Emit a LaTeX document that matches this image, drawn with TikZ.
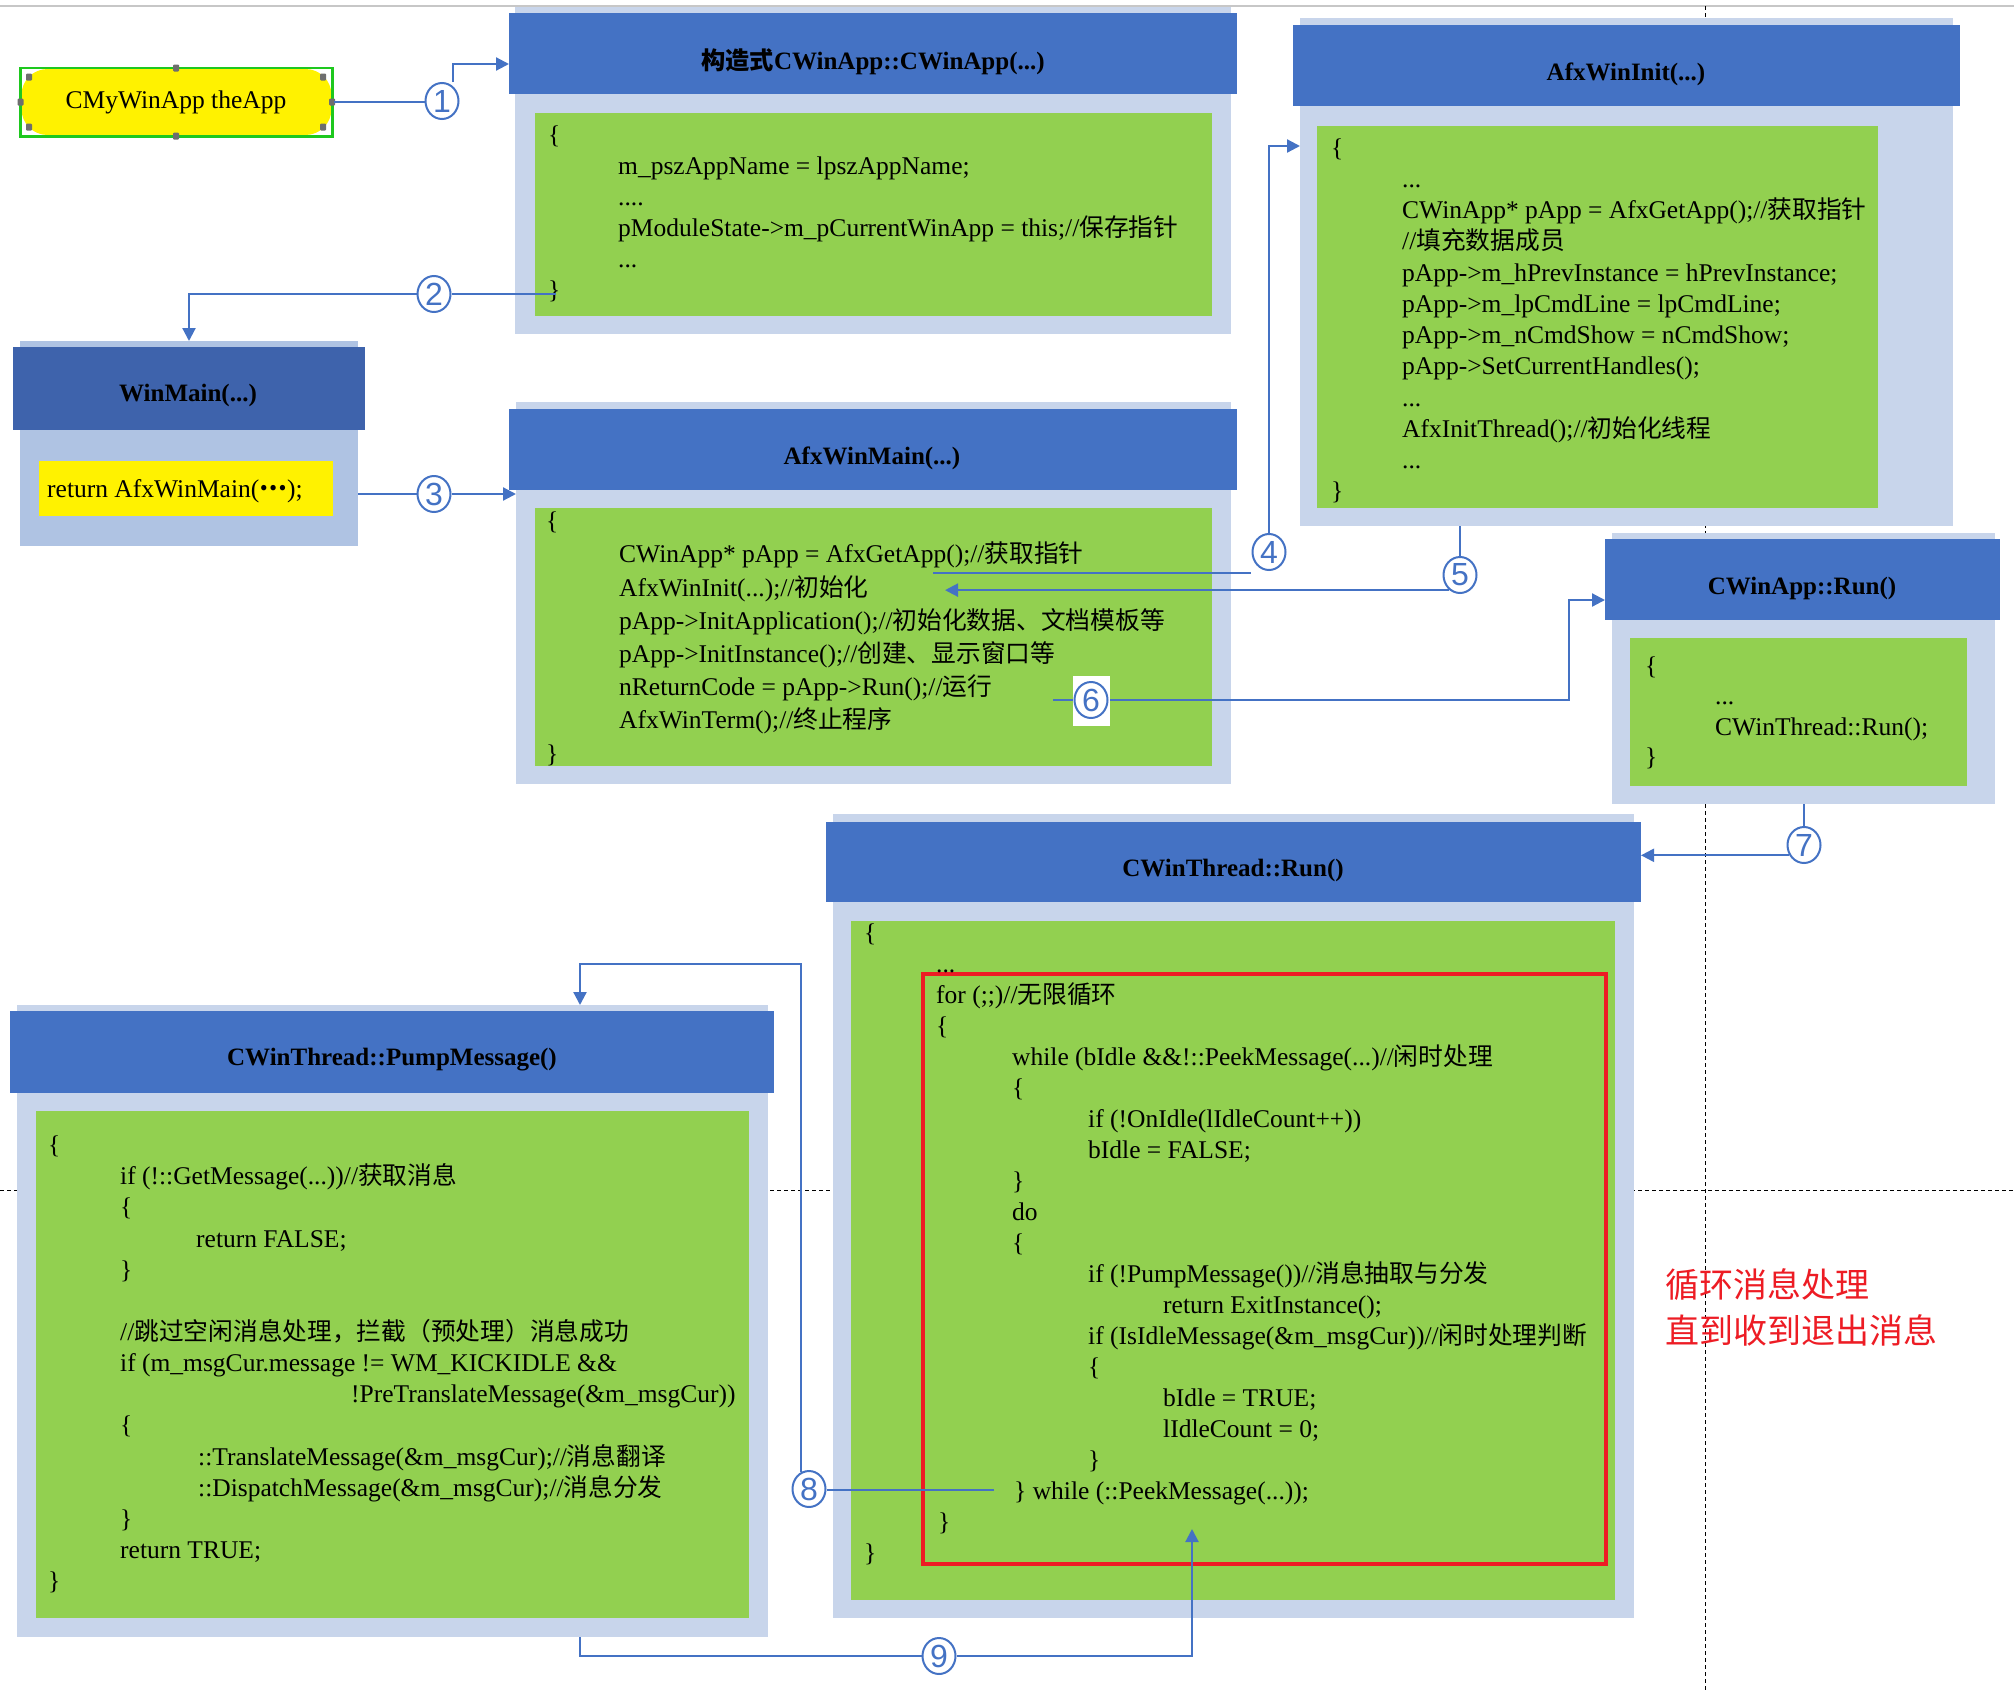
\documentclass[tikz,border=0pt]{standalone}
\usepackage{fontspec}
\setmainfont{Liberation Serif}
\newfontfamily\cjkfam[Scale=0.97]{Noto Sans CJK SC}
\newfontfamily\cjkred{Noto Sans CJK SC}
\newfontfamily\digitfont{Liberation Sans}
\usetikzlibrary{arrows.meta,calc,fit,shapes.geometric}
\definecolor{panelC}{RGB}{200,213,235}
\definecolor{titleC}{RGB}{68,114,196}
\definecolor{codeC}{RGB}{146,208,80}
\definecolor{wmPanelC}{RGB}{175,195,227}
\definecolor{wmTitleC}{RGB}{62,99,172}
\definecolor{lineC}{RGB}{68,114,196}
\definecolor{redC}{RGB}{237,28,36}
\definecolor{frameG}{RGB}{30,200,30}
\definecolor{handleC}{RGB}{110,110,110}
\newcommand\ZH[1]{{\cjkfam #1}}
\newcommand\Ind[1]{\hspace*{#1pt}}
\newcommand\FL{\rule{0pt}{24pt}}
\tikzset{
  plainbox/.style={inner sep=0pt, outer sep=0pt},
  panel/.style={plainbox, fill=panelC},
  titlebar/.style={plainbox, fill=titleC},
  codearea/.style={plainbox, fill=codeC},
  titletext/.style={inner sep=0pt, font={\bfseries\fontsize{25}{30}\selectfont}},
  codetext/.style={inner sep=0pt, anchor=north west, align=left,
    font={\fontsize{25.5}{#1}\selectfont\lineskiplimit=-100pt\lineskip=0pt}},
  num/.style={ellipse, draw=lineC, line width=2pt, fill=white, inner sep=0pt,
    minimum width=33pt, minimum height=36pt, text=lineC,
    font={\digitfont\fontsize{32}{32}\selectfont}},
  conn/.style={draw=lineC, line width=2.2pt},
  arr/.style={conn, -{Triangle[length=13pt,width=13pt]}},
  handle/.style={rectangle, rounded corners=1pt, fill=handleC, minimum width=6pt, minimum height=7pt, inner sep=0pt},
  guide/.style={draw=black, line width=1pt, dash pattern=on 4pt off 3pt},
}
\begin{document}
\begin{tikzpicture}[x=1pt,y=-1pt]
\useasboundingbox[fill=white] (0,0) rectangle (2014,1692);

% background guides
\draw[black!22, line width=2pt] (0,6) -- (2014,6);
\draw[guide] (1705,6) -- (1705,1692);
\draw[guide] (0,1190) -- (2014,1190);

% CMyWinApp theApp
\node[plainbox, fill=yellow, rounded corners=26pt, fit={(21.5,69) (331.5,135)}] (appshape) {};
\node[draw=frameG, line width=2.5pt, inner sep=0pt, fit={(20.5,68) (332.7,136.5)}] (appframe) {};
\node[inner sep=0pt, font={\fontsize{25.5}{30}\selectfont}] (apptext) at (176,102) {CMyWinApp theApp};
\foreach \p [count=\i] in {(29,77),(176,68),(323,77),(20.5,102),(332,102),(29,127),(176,136),(323,127)}
  \node[handle] (hd\i) at \p {};

% Box A : constructor
\node[panel, fit={(515,7) (1231,334)}] (apanel) {};
\node[titlebar, fit={(509,13) (1237,94)}] (at) {};
\node[codearea, fit={(535,113) (1212,316)}] (agreen) {};
\node[titletext] (attxt) at (873,62) {\ZH{构造式}CWinApp::CWinApp(...)};
\node[codetext=31] (acode) at (548,119.5) {\FL\{\\
\Ind{70}m\_pszAppName = lpszAppName;\\
\Ind{70}....\\
\Ind{70}pModuleState->m\_pCurrentWinApp = this;//\ZH{保存指针}\\
\Ind{70}...\\
\}};

% WinMain
\node[plainbox, fill=wmPanelC, fit={(20,341) (358,546)}] (wmpanel) {};
\node[plainbox, fill=wmTitleC, fit={(12.5,347) (365,430)}] (wmt) {};
\node[plainbox, fill=yellow, fit={(39,461) (333,516)}] (wmyellow) {};
\node[titletext] (wmttxt) at (188,395) {WinMain(...)};
\node[inner sep=0pt, anchor=base west, font={\fontsize{25.5}{30}\selectfont}] (wmtext) at (47,497) {return AfxWinMain(\raisebox{7pt}{\ZH{\bfseries …}});};

% Box B : AfxWinMain
\node[panel, fit={(516,402) (1231,784)}] (bpanel) {};
\node[titlebar, fit={(509,409) (1237,490)}] (bt) {};
\node[codearea, fit={(535,508) (1212,766)}] (bgreen) {};
\node[titletext] (bttxt) at (872,458) {AfxWinMain(...)};
\node[codetext=33.2] (bcode) at (546,505.5) {\FL\{\\
\Ind{73}CWinApp* pApp = AfxGetApp();//\ZH{获取指针}\\
\Ind{73}AfxWinInit(...);//\ZH{初始化}\\
\Ind{73}pApp->InitApplication();//\ZH{初始化数据、文档模板等}\\
\Ind{73}pApp->InitInstance();//\ZH{创建、显示窗口等}\\
\Ind{73}nReturnCode = pApp->Run();//\ZH{运行}\\
\Ind{73}AfxWinTerm();//\ZH{终止程序}\\
\}};

% Box C : AfxWinInit
\node[panel, fit={(1300,18) (1953,526)}] (cpanel) {};
\node[titlebar, fit={(1293,25) (1960,106)}] (ct) {};
\node[codearea, fit={(1317,126) (1878,508)}] (cgreen) {};
\node[titletext] (cttxt) at (1626,74) {AfxWinInit(...)};
\node[codetext=31.25] (ccode) at (1331,132) {\FL\{\\
\Ind{71}...\\
\Ind{71}CWinApp* pApp = AfxGetApp();//\ZH{获取指针}\\
\Ind{71}//\ZH{填充数据成员}\\
\Ind{71}pApp->m\_hPrevInstance = hPrevInstance;\\
\Ind{71}pApp->m\_lpCmdLine = lpCmdLine;\\
\Ind{71}pApp->m\_nCmdShow = nCmdShow;\\
\Ind{71}pApp->SetCurrentHandles();\\
\Ind{71}...\\
\Ind{71}AfxInitThread();//\ZH{初始化线程}\\
\Ind{71}...\\
\}};

% Box D : CWinApp::Run
\node[panel, fit={(1612,533) (1995,804)}] (dpanel) {};
\node[titlebar, fit={(1605,539) (2000,620)}] (dt) {};
\node[codearea, fit={(1630,638) (1967,786)}] (dgreen) {};
\node[titletext] (dttxt) at (1802,588) {CWinApp::Run()};
\node[codetext=30.5] (dcode) at (1645,650) {\FL\{\\
\Ind{70}...\\
\Ind{70}CWinThread::Run();\\
\}};

% Box E : CWinThread::Run
\node[panel, fit={(833,814) (1634,1618)}] (epanel) {};
\node[titlebar, fit={(826,822) (1641,902)}] (et) {};
\node[codearea, fit={(851,921) (1615,1600)}] (egreen) {};
\node[draw=redC, line width=3.5pt, inner sep=0pt, fit={(923,974) (1606,1564)}] (loopbox) {};
\node[titletext] (ettxt) at (1233,870) {CWinThread::Run()};
\node[codetext=31] (ecode) at (864,917.5) {\FL\{\\
\Ind{72}...\\
\Ind{72}for (;;)//\ZH{无限循环}\\
\Ind{72}\{\\
\Ind{148}while (bIdle \&\&!::PeekMessage(...)//\ZH{闲时处理}\\
\Ind{148}\{\\
\Ind{224}if (!OnIdle(lIdleCount++))\\
\Ind{224}bIdle = FALSE;\\
\Ind{148}\}\\
\Ind{148}do\\
\Ind{148}\{\\
\Ind{224}if (!PumpMessage())//\ZH{消息抽取与分发}\\
\Ind{299}return ExitInstance();\\
\Ind{224}if (IsIdleMessage(\&m\_msgCur))//\ZH{闲时处理判断}\\
\Ind{224}\{\\
\Ind{299}bIdle = TRUE;\\
\Ind{299}lIdleCount = 0;\\
\Ind{224}\}\\
\Ind{150}\} while (::PeekMessage(...));\\
\Ind{74}\}\\
\}};

% Box F : CWinThread::PumpMessage
\node[panel, fit={(17,1005) (768,1637)}] (fpanel) {};
\node[titlebar, fit={(10,1011) (774,1093)}] (ft) {};
\node[codearea, fit={(36,1111) (749,1618)}] (fgreen) {};
\node[titletext] (fttxt) at (392,1060) {CWinThread::PumpMessage()};
\node[codetext=31.14] (fcode) at (48,1129.5) {\FL\{\\
\Ind{72}if (!::GetMessage(...))//\ZH{获取消息}\\
\Ind{72}\{\\
\Ind{148}return FALSE;\\
\Ind{72}\}\\
\mbox{}\\
\Ind{72}//\ZH{跳过空闲消息处理，拦截（预处理）消息成功}\\
\Ind{72}if (m\_msgCur.message != WM\_KICKIDLE \&\&\\
\Ind{303}!PreTranslateMessage(\&m\_msgCur))\\
\Ind{72}\{\\
\Ind{150}::TranslateMessage(\&m\_msgCur);//\ZH{消息翻译}\\
\Ind{150}::DispatchMessage(\&m\_msgCur);//\ZH{消息分发}\\
\Ind{72}\}\\
\Ind{72}return TRUE;\\
\}};

% red note
\node[inner sep=0pt, anchor=base west, text=redC, font={\cjkred\fontsize{34}{46}\selectfont}] (note1) at (1665,1297) {循环消息处理};
\node[inner sep=0pt, anchor=base west, text=redC, font={\cjkred\fontsize{34}{46}\selectfont}] (note2) at (1665,1343) {直到收到退出消息};

% circle positions
\coordinate (p1) at (442,101);
\coordinate (p2) at (434,294);
\coordinate (p3) at (434,494);
\coordinate (p4) at (1269,552);
\coordinate (p5) at (1460,575);
\coordinate (p6) at (1091,700);
\coordinate (p7) at (1804,845);
\coordinate (p8) at (809,1489);
\coordinate (p9) at (939,1656);
\node[num] (c1) at (p1) {1};
\node[num] (c2) at (p2) {2};
\node[num] (c3) at (p3) {3};
\node[num] (c4) at (p4) {4};
\node[num] (c5) at (p5) {5};
\node[num] (c7) at (p7) {7};
\node[num] (c8) at (p8) {8};
\node[num] (c9) at (p9) {9};

% free ends
\coordinate (b2) at (556,294);
\coordinate (d4a) at (933,573);
\coordinate (d4b) at (1251,573);
\coordinate (f5) at (945,592);
\coordinate (g6) at (1053,700);
\coordinate (h8) at (994,1490);
\coordinate (k8) at (580,964);
\coordinate (m9) at (1192,1529);

% connectors
\draw[conn] (appframe.east) -- (appframe.east -| c1.west);
\draw[arr] ([xshift=11pt]c1.north) |- ($(at.west)+(0,10.5)$);
\draw[conn] (b2) -- (c2.east);
\draw[arr] (c2.west) -| (wmpanel.north);
\draw[conn] (wmpanel.east |- c3.west) -- (c3.west);
\draw[arr] (c3.east) -- (c3.east -| bpanel.west);
\draw[conn] (d4a) -- (d4b);
\draw[arr] (c4.north) |- ($(cpanel.north west)+(0,128)$);
\draw[conn] (c5.north |- cpanel.south) -- (c5.north);
\draw[arr] (c5.235) -- (c5.235 -| f5);
\draw[conn] (g6) -- (p6);
\draw[arr] (p6) -| ($(dt.west)+(-36,20.5)$) -- ($(dt.west)+(0,20.5)$);
\draw[conn] (c7.north |- dpanel.south) -- (c7.north);
\draw[arr] (c7.215) -- (c7.215 -| et.east);
\draw[conn] (h8) -- (h8 -| c8.east);
\draw[arr] (c8.115) -- (c8.115 |- k8) -- (k8) -- (k8 |- fpanel.north);
\draw[conn] (k8 |- fpanel.south) |- (c9.west);
\draw[arr] (c9.east) -| (m9);

% circle 6 on its white patch
\node[plainbox, fill=white, fit={(1073,676) (1110,726)}] (c6bg) {};
\node[num] (c6) at (p6) {6};
\end{tikzpicture}
\end{document}
